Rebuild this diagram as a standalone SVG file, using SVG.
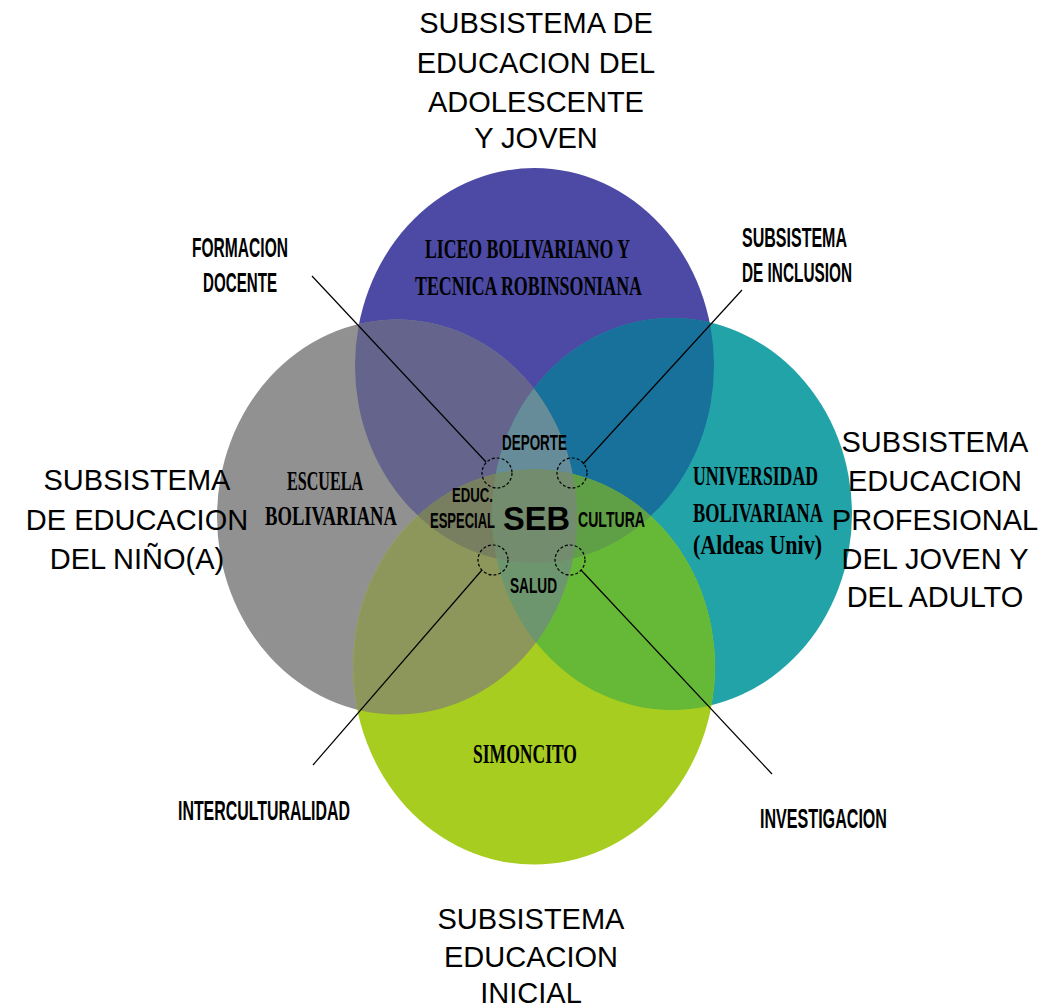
<svg xmlns="http://www.w3.org/2000/svg" width="1046" height="1008" viewBox="0 0 1046 1008">
<style>
.t{font-family:"Liberation Sans",Arial,sans-serif;font-size:29px;fill:#000;text-anchor:middle}
.k{font-family:"Liberation Sans",Arial,sans-serif;font-weight:bold;fill:#000}
.s{font-family:"Liberation Serif","Times New Roman",serif;font-weight:bold;fill:#000}
.ln{stroke:#000;stroke-width:1.2;fill:none}
.dc{stroke:#000;stroke-width:1.2;fill:none;stroke-dasharray:3 2}
</style>
<defs>
<ellipse id="eP" cx="534.5" cy="365.5" rx="179.5" ry="197.5"/>
<ellipse id="eG" cx="397" cy="517" rx="180" ry="197.5"/>
<ellipse id="eT" cx="672" cy="514" rx="180" ry="196"/>
<ellipse id="eN" cx="534" cy="667" rx="181" ry="197.5"/>
<clipPath id="cP"><use href="#eP"/></clipPath>
<clipPath id="cG"><use href="#eG"/></clipPath>
<clipPath id="cT"><use href="#eT"/></clipPath>
<clipPath id="cN"><use href="#eN"/></clipPath>
</defs>
<rect width="1046" height="1008" fill="#fff"/>
<g id="circles">
<use id="liceo" href="#eP" fill="#4C4AA4"/>
<use id="escuela" href="#eG" fill="#919191"/>
<use id="universidad" href="#eT" fill="#21A3A8"/>
<use id="simoncito" href="#eN" fill="#A6CD1F"/>
<use href="#eG" fill="#65648D" clip-path="url(#cP)"/>
<use href="#eT" fill="#17719A" clip-path="url(#cP)"/>
<use href="#eN" fill="#8D965B" clip-path="url(#cG)"/>
<use href="#eN" fill="#66B937" clip-path="url(#cT)"/>
<use href="#eN" fill="#7A9A5A" clip-path="url(#cP)"/>
<use href="#eT" fill="#6E966E" clip-path="url(#cG)"/>
<g clip-path="url(#cP)"><use href="#eT" fill="#678C99" clip-path="url(#cG)"/></g>
<g clip-path="url(#cP)"><use href="#eN" fill="#787F60" clip-path="url(#cG)"/></g>
<g clip-path="url(#cP)"><use href="#eN" fill="#5FA046" clip-path="url(#cT)"/></g>
<g clip-path="url(#cG)"><use href="#eN" fill="#6E966E" clip-path="url(#cT)"/></g>
<g clip-path="url(#cP)"><g clip-path="url(#cG)"><use href="#eN" fill="#738C6E" clip-path="url(#cT)"/></g></g>
</g>
<g id="connectors">
<line class="ln" x1="312" y1="276" x2="486" y2="462"/>
<line class="ln" x1="581" y1="570" x2="772" y2="774"/>
<line class="ln" x1="742" y1="290" x2="583" y2="464"/>
<line class="ln" x1="482" y1="570" x2="313" y2="765"/>
<circle class="dc" cx="497" cy="473" r="15"/>
<circle class="dc" cx="572" cy="473" r="15"/>
<circle class="dc" cx="493" cy="560" r="15"/>
<circle class="dc" cx="570" cy="560" r="15"/>
</g>
<g id="title-top"><text class="t" x="536" y="33">SUBSISTEMA DE</text><text class="t" x="536" y="73">EDUCACION DEL</text><text class="t" x="536" y="112">ADOLESCENTE</text><text class="t" x="536" y="148">Y JOVEN</text></g>
<g id="title-left"><text class="t" x="137" y="490">SUBSISTEMA</text><text class="t" x="137" y="530">DE EDUCACION</text><text class="t" x="137" y="569">DEL NIÑO(A)</text></g>
<g id="title-right"><text class="t" x="935" y="452">SUBSISTEMA</text><text class="t" x="935" y="491">EDUCACION</text><text class="t" x="935" y="530">PROFESIONAL</text><text class="t" x="935" y="569">DEL JOVEN Y</text><text class="t" x="935" y="607">DEL ADULTO</text></g>
<g id="title-bottom"><text class="t" x="531" y="929">SUBSISTEMA</text><text class="t" x="531" y="967">EDUCACION</text><text class="t" x="531" y="1003">INICIAL</text></g>
<g id="formacion"><text class="k" font-size="28" x="192" y="257" textLength="96" lengthAdjust="spacingAndGlyphs">FORMACION</text><text class="k" font-size="28" x="203" y="292" textLength="74" lengthAdjust="spacingAndGlyphs">DOCENTE</text></g>
<g id="inclusion"><text class="k" font-size="28" x="742" y="247" textLength="105" lengthAdjust="spacingAndGlyphs">SUBSISTEMA</text><text class="k" font-size="28" x="742" y="282" textLength="110" lengthAdjust="spacingAndGlyphs">DE INCLUSION</text></g>
<g id="interculturalidad"><text class="k" font-size="28" x="178" y="820" textLength="172" lengthAdjust="spacingAndGlyphs">INTERCULTURALIDAD</text></g>
<g id="investigacion"><text class="k" font-size="28" x="760" y="828" textLength="127" lengthAdjust="spacingAndGlyphs">INVESTIGACION</text></g>
<g id="lbl-liceo"><text class="s" font-size="27" x="425" y="258" textLength="205" lengthAdjust="spacingAndGlyphs">LICEO BOLIVARIANO Y</text><text class="s" font-size="27" x="415" y="295" textLength="227" lengthAdjust="spacingAndGlyphs">TECNICA ROBINSONIANA</text></g>
<g id="lbl-escuela"><text class="s" font-size="27" x="287" y="490" textLength="76" lengthAdjust="spacingAndGlyphs">ESCUELA</text><text class="s" font-size="27" x="265" y="525" textLength="132" lengthAdjust="spacingAndGlyphs">BOLIVARIANA</text></g>
<g id="lbl-universidad"><text class="s" font-size="27" x="693" y="485" textLength="125" lengthAdjust="spacingAndGlyphs">UNIVERSIDAD</text><text class="s" font-size="27" x="693" y="522" textLength="130" lengthAdjust="spacingAndGlyphs">BOLIVARIANA</text><text class="s" font-size="27" x="693" y="554" textLength="129" lengthAdjust="spacingAndGlyphs">(Aldeas Univ)</text></g>
<g id="lbl-simoncito"><text class="s" font-size="27" x="473" y="763" textLength="104" lengthAdjust="spacingAndGlyphs">SIMONCITO</text></g>
<g id="center">
<text class="k" font-size="22" x="502" y="450" textLength="65" lengthAdjust="spacingAndGlyphs">DEPORTE</text>
<text class="k" font-size="20" x="452" y="502" textLength="41" lengthAdjust="spacingAndGlyphs">EDUC.</text>
<text class="k" font-size="22" x="430" y="528" textLength="65" lengthAdjust="spacingAndGlyphs">ESPECIAL</text>
<text class="k" font-size="33" x="503" y="530" textLength="67" lengthAdjust="spacingAndGlyphs">SEB</text>
<text class="k" font-size="22" x="578" y="527" textLength="67" lengthAdjust="spacingAndGlyphs">CULTURA</text>
<text class="k" font-size="22" x="510" y="593" textLength="47" lengthAdjust="spacingAndGlyphs">SALUD</text>
</g>
</svg>
